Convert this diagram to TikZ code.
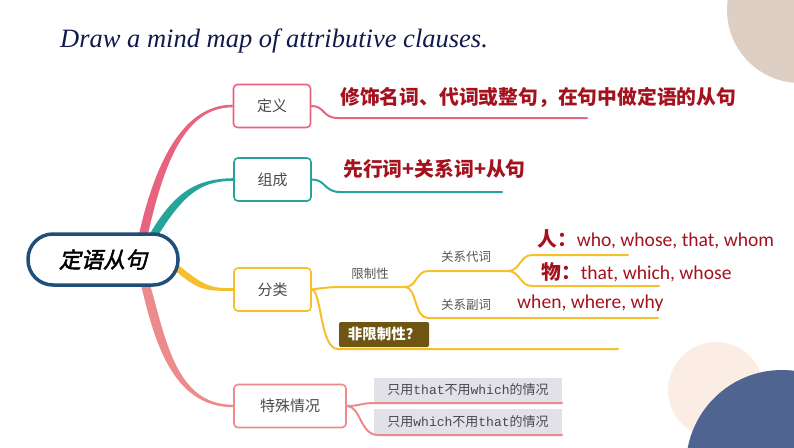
\documentclass[tikz,border=0pt]{standalone}
\usepackage{fontspec}
\setmainfont{Liberation Serif}
\newfontfamily\cjk{Noto Sans CJK SC}
\newfontfamily\cjksl[FakeSlant=0.22,FakeBold=2]{Noto Sans CJK SC}
\newfontfamily\lat{Carlito}
\newfontfamily\mono{Liberation Mono}
\usetikzlibrary{calc}
\pgfdeclarelayer{bg}
\pgfsetlayers{bg,main}
\definecolor{pinkc}{HTML}{E8637F}
\definecolor{tealc}{HTML}{26A39A}
\definecolor{yelc}{HTML}{F5C02B}
\definecolor{salc}{HTML}{EC8A8C}
\definecolor{cblue}{HTML}{1F4E79}
\definecolor{redtxt}{HTML}{A3121E}
\definecolor{boxtext}{HTML}{4A4A4A}
\definecolor{lblgray}{HTML}{555555}
\definecolor{titlecol}{HTML}{121A4A}
\definecolor{olivebox}{HTML}{6E5512}
\definecolor{graybox}{HTML}{E2E0E8}
\definecolor{beige}{HTML}{DDCFC3}
\definecolor{peach}{HTML}{FBEDE4}
\definecolor{bluec}{HTML}{4F6490}
\newcommand{\latreg}[1]{{\lat\mdseries\fontsize{19.6}{20}\selectfont #1}}
\begin{document}
\begin{tikzpicture}[x=1pt,y=-1pt,
  box/.style={draw=#1, line width=1.6pt, rounded corners=4pt, fill=white,
    minimum width=77pt, minimum height=43pt, inner sep=0pt,
    font=\cjk\fontsize{15}{15}\selectfont, text=boxtext},
  lbl/.style={font=\cjk\fontsize{12.5}{13}\selectfont, text=lblgray, inner sep=0pt},
  redt/.style={font=\cjk\bfseries\fontsize{19.8}{20}\selectfont, text=redtxt, inner sep=0pt, anchor=west},
  branch/.style={line width=2pt, line cap=round},
  gbox/.style={fill=graybox, minimum width=188pt, minimum height=24pt, inner sep=0pt,
    font=\cjk\fontsize{13}{13}\selectfont, text=boxtext}
]
\useasboundingbox (0,0) rectangle (794,447);
\clip (0,0) rectangle (794,447);

% decorative circles
\fill[beige] (800,10) circle (73);
\fill[peach] (716,390) circle (48);
\fill[bluec] (782,466) circle (96);

% title
\node[anchor=base west, inner sep=0pt, font=\itshape\fontsize{26.5}{27}\selectfont, text=titlecol] (title) at (60,47) {Draw a mind map of attributive clauses.};

% root
\node[draw=cblue, line width=3.5pt, rounded corners=25pt, fill=white,
  minimum width=150pt, minimum height=51pt, inner sep=0pt,
  font=\cjksl\fontsize{22}{22}\selectfont, text=black] (root) at (103,259.5) {定语从句};

% first-level boxes
\node[box=pinkc] (def) at (272,106) {定义};
\node[box=tealc] (zc) at (272.5,179.5) {组成};
\node[box=yelc] (fen) at (272.5,289.5) {分类};
\node[box=salc, minimum width=112pt] (te) at (290,406) {特殊情况};

% main tapered branches
\coordinate (pk0) at ([xshift=40pt,yshift=-4pt]root.north);
\coordinate (tl0) at ([xshift=50pt,yshift=-4pt]root.north);
\coordinate (ye0) at ([xshift=-6pt,yshift=-6pt]root.east);
\coordinate (sa0) at ([xshift=42pt,yshift=4pt]root.south);
\begin{pgfonlayer}{bg}
\fill[pinkc] ([xshift=-4.5pt]pk0) .. controls (155.5,160) and (184,104.8) .. ([yshift=1.3pt]def.west)
  -- ([yshift=-1.3pt]def.west) .. controls (186,107.2) and (164.5,160) .. ([xshift=4.5pt]pk0) -- cycle;
\fill[tealc] ([xshift=-4.5pt]tl0) .. controls (176,188) and (200,178.8) .. ([yshift=1.3pt]zc.west)
  -- ([yshift=-1.3pt]zc.west) .. controls (202,181.2) and (185,192) .. ([xshift=4.5pt]tl0) -- cycle;
\fill[yelc] ([yshift=4pt]ye0) .. controls (200,282) and (206,288.8) .. ([yshift=1.3pt]fen.west)
  -- ([yshift=-1.3pt]fen.west) .. controls (204,291.2) and (198,290) .. ([yshift=-4pt]ye0) -- cycle;
\fill[salc] ([xshift=-4.5pt]sa0) .. controls (154,340) and (172,407.2) .. ([yshift=-1.2pt]te.west)
  -- ([yshift=1.2pt]te.west) .. controls (176,404.8) and (166,340) .. ([xshift=4.5pt]sa0) -- cycle;
\end{pgfonlayer}

% definition branch
\coordinate (d0) at (338,118);
\coordinate (d1) at (587,118);
\draw[branch, pinkc] (def.east) .. controls +(14,0) and +(-16,0) .. (d0) -- (d1);
\node[redt] (dtxt) at (340,97) {修饰名词、代词或整句，在句中做定语的从句};

% composition branch
\coordinate (z0) at (340,192);
\coordinate (z1) at (502,192);
\draw[branch, tealc] (zc.east) .. controls +(14,0) and +(-16,0) .. (z0) -- (z1);
\node[redt] (ztxt) at (343,169) {先行词+关系词+从句};

% classification branch
\coordinate (f0) at (345,287);
\coordinate (s1) at (405,287);
\coordinate (a0) at (428,271);
\coordinate (s2) at (508,271);
\coordinate (p0) at (532,255);
\coordinate (p1) at (628,255);
\coordinate (w0) at (532,286);
\coordinate (w1) at (659,286);
\coordinate (b0) at (428,318);
\coordinate (b1) at (658,318);
\coordinate (n0) at (338,349);
\coordinate (n1) at (618,349);
\draw[branch, yelc] (fen.east) .. controls +(14,-2) and +(-15,0) .. (f0) -- (s1);
\draw[branch, yelc] (s1) .. controls +(12,0) and +(-12,0) .. (a0) -- (s2);
\draw[branch, yelc] (s2) .. controls +(12,0) and +(-12,0) .. (p0) -- (p1);
\draw[branch, yelc] (s2) .. controls +(12,0) and +(-12,0) .. (w0) -- (w1);
\draw[branch, yelc] (s1) .. controls +(12,0) and +(-14,0) .. (b0) -- (b1);
\draw[branch, yelc] (fen.east) .. controls +(10,2) and +(-18,0) .. (n0) -- (n1);

\node[lbl] (xz) at (370,274) {限制性};
\node[lbl] (gd) at (466,257) {关系代词};
\node[lbl] (gf) at (466,305) {关系副词};
\node[redt] (ren) at (537,239) {人：\latreg{who, whose, that, whom}};
\node[redt] (wu) at (541,272) {物：\latreg{that, which, whose}};
\node[redt] (adv) at (517,303) {\latreg{when, where, why}};
\node[fill=olivebox, rounded corners=1.5pt, minimum width=90pt, minimum height=25pt, inner sep=0pt,
  font=\cjk\bfseries\fontsize{14.5}{15}\selectfont, text=white] (fx) at (384,334.5) {非限制性？};

% special cases branch
\node[gbox] (g1) at (468,390) {只用{\mono that}不用{\mono which}的情况};
\node[gbox, minimum height=25pt] (g2) at (468,421.5) {只用{\mono which}不用{\mono that}的情况};
\coordinate (t0) at (375,403);
\coordinate (t1) at (562,403);
\coordinate (u0) at (378,435);
\coordinate (u1) at (562,435);
\draw[branch, salc] (te.east) .. controls +(13,0) and +(-14,0) .. (t0) -- (t1);
\draw[branch, salc] (te.east) .. controls +(14,0) and +(-18,0) .. (u0) -- (u1);
\end{tikzpicture}
\end{document}
